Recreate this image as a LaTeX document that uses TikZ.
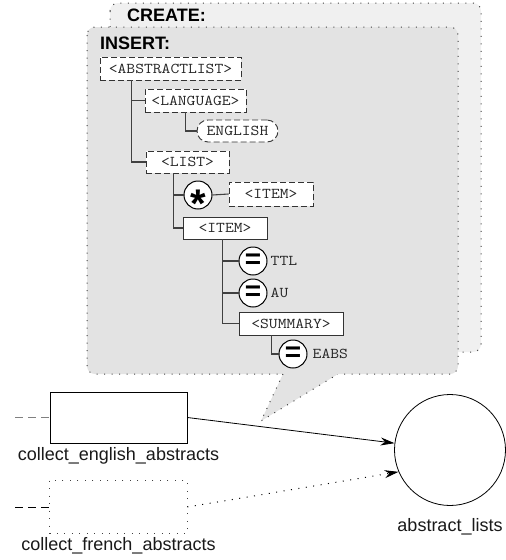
\documentclass[tikz,border=0pt]{standalone}
\usepackage{fontspec}
\setmainfont{Liberation Sans}
\setmonofont{Latin Modern Mono}[FakeStretch=1.14]
\usetikzlibrary{arrows.meta, positioning}

\begin{document}
\begin{tikzpicture}[x=1pt, y=-1pt, every node/.style={inner sep=0pt}]
    \tikzset{
      tagbox/.style={rectangle, draw=black!80, fill=white, line width=0.9pt,
                     minimum height=23pt, text=black!85,
                     font=\fontsize{15}{17}\selectfont\ttfamily},
      opttag/.style={tagbox, dash pattern=on 6pt off 3pt},
      opcircle/.style={circle, draw=black, fill=white, line width=1pt,
                       minimum size=28pt, font=\fontsize{28}{28}\selectfont\bfseries},
      fieldtxt/.style={text=black!85, font=\fontsize{15}{17}\selectfont\ttfamily},
      tree/.style={draw=black!75, line width=1.1pt},
      dotline/.style={draw=black!75, line width=1pt, dash pattern=on 1pt off 6.5pt},
      hdr/.style={font=\fontsize{18}{20}\selectfont\bfseries},
      lbl/.style={font=\fontsize{18}{20}\selectfont, text=black!90},
      procbox/.style={rectangle, draw, fill=white, line width=0.8pt,
                      minimum width=137pt}}
    \useasboundingbox (0,0) rectangle (506,560);
    % CREATE / INSERT panels
    \filldraw[dotline, fill=black!6, rounded corners=8pt] (110,3) rectangle (481,352);
    \filldraw[dotline, fill=black!11, rounded corners=8pt] (87,27) rectangle (458,374);
    \fill[black!11] (280,372) -- (283,374) -- (261,421) -- (338,374) -- (341,372) -- cycle;
    \draw[dotline] (283,374) -- (261,421) -- (338,374);
    \node[hdr, anchor=west] (create) at (127,15) {CREATE:};
    \node[hdr, anchor=west] (insert) at (100,43) {INSERT:};
    % tree
    \node[opttag, minimum width=141pt] (abslist) at (170.5,68.5) {<ABSTRACTLIST>};
    \node[opttag, minimum width=101pt] (language) at (195.5,100.5) {<LANGUAGE>};
    \node[opttag, minimum width=81pt, minimum height=22pt, rounded corners=11pt] (english) at (237.5,131) {ENGLISH};
    \node[opttag, minimum width=83pt, minimum height=22pt] (list) at (187.5,162) {<LIST>};
    \node[opcircle] (star) at (198,195) {};
    \node[opcircle, draw=none, fill=none, font=\fontsize{40}{40}\selectfont\bfseries, yshift=-9pt] (startxt) at (star) {*};
    \node[opttag, minimum width=84pt, minimum height=24pt] (optitem) at (271,194) {<ITEM>};
    \node[tagbox, minimum width=84pt, minimum height=22pt] (item) at (225,228) {<ITEM>};
    \node[opcircle] (ttl) at (253,261) {=};
    \node[fieldtxt, right=3pt of ttl] (ttltxt) {TTL};
    \node[opcircle] (au) at (253,293) {=};
    \node[fieldtxt, right=3pt of au] (autxt) {AU};
    \node[tagbox, minimum width=104pt] (summary) at (291,323.5) {<SUMMARY>};
    \node[opcircle] (eabs) at (293,354) {=};
    \node[fieldtxt, right=5pt of eabs] (eabstxt) {EABS};
    \draw[tree] ([xshift=32pt]abslist.south west) coordinate (absroot) |- (list.west);
    \draw[tree] (absroot |- language.west) -- (language.west);
    \draw[tree] ([xshift=41pt]language.south west) |- (english.west);
    \draw[tree] ([xshift=28pt]list.south west) coordinate (listroot) |- (item.west);
    \draw[tree] (listroot |- star.west) -- (star.west);
    \draw[tree] (star.east) -- (optitem.west);
    \draw[tree] ([xshift=40pt]item.south west) coordinate (itemroot) |- (summary.west);
    \draw[tree] (itemroot |- ttl.west) -- (ttl.west);
    \draw[tree] (itemroot |- au.west) -- (au.west);
    \draw[tree] ([xshift=33pt]summary.south west) |- (eabs.west);
    % processes and store
    \node[procbox, minimum height=51pt, label={[lbl, label distance=4pt]below:collect\_english\_abstracts}] (engproc) at (118.5,417.5) {};
    \node[procbox, draw=none, minimum height=52pt, label={[lbl, label distance=4pt]below:collect\_french\_abstracts}] (frproc) at (118.5,507) {};
    \draw[dotline] (frproc.north west) rectangle (frproc.south east);
    \node[circle, draw, line width=0.8pt, minimum size=111pt, label={[lbl, label distance=12pt]below:abstract\_lists}] (lists) at (450,450) {};
    \coordinate (engstub) at (15,417.5);
    \coordinate (frstub) at (15,507);
    \draw[gray, line width=1pt, dash pattern=on 8pt off 5pt] (engstub) -- (engproc.west);
    \draw[black, line width=1pt, dash pattern=on 8pt off 5pt] (frstub) -- (frproc.west);
    \draw[line width=0.8pt, -{Stealth[length=14pt, width=8pt]}] (engproc.east) -- (lists.173);
    \draw[dotline, draw=black, -{Stealth[length=14pt, width=8pt]}] (frproc.east) -- (lists.203);
  \end{tikzpicture}
\end{document}
